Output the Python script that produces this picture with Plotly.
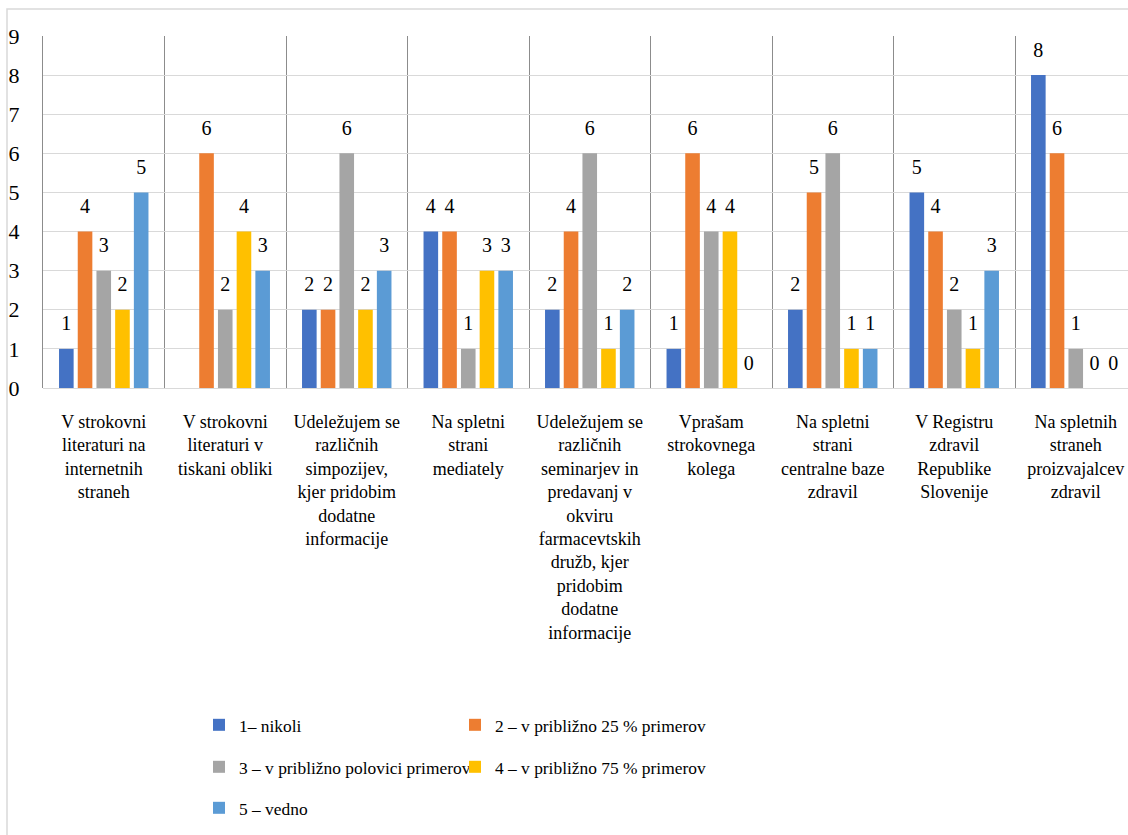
import plotly.graph_objects as go

# Survey: where respondents look for information, answer counts per frequency
categories = [
    "V strokovni<br>literaturi na<br>internetnih<br>straneh",
    "V strokovni<br>literaturi v<br>tiskani obliki",
    "Udeležujem se<br>različnih<br>simpozijev,<br>kjer pridobim<br>dodatne<br>informacije",
    "Na spletni<br>strani<br>mediately",
    "Udeležujem se<br>različnih<br>seminarjev in<br>predavanj v<br>okviru<br>farmacevtskih<br>družb, kjer<br>pridobim<br>dodatne<br>informacije",
    "Vprašam<br>strokovnega<br>kolega",
    "Na spletni<br>strani<br>centralne baze<br>zdravil",
    "V Registru<br>zdravil<br>Republike<br>Slovenije",
    "Na spletnih<br>straneh<br>proizvajalcev<br>zdravil",
]

series_names = [
    "1– nikoli",
    "2 – v približno 25 % primerov",
    "3 – v približno polovici primerov",
    "4 – v približno 75 % primerov",
    "5 – vedno",
]

nikoli = [1, None, 2, 4, 2, 1, 2, 5, 8]
priblizno_25 = [4, 6, 2, 4, 4, 6, 5, 4, 6]
polovica = [3, 2, 6, 1, 6, 4, 6, 2, 1]
priblizno_75 = [2, 4, 2, 3, 1, 4, 1, 1, 0]
vedno = [5, 3, 3, 3, 2, 0, 1, 3, 0]

series_values = [nikoli, priblizno_25, polovica, priblizno_75, vedno]
colors = ["#4472C4", "#ED7D31", "#A5A5A5", "#FFC000", "#5B9BD5"]

y_ticks = list(range(0, 10))

FONT = "'Liberation Serif', 'Times New Roman', Times, 'DejaVu Serif', serif"
W, H = 1128, 835
M_L, M_T, M_B = 43, 36, 447
BAR_GAP = 0.23

# legend grid: two columns, three rows (pixel position of each entry's left edge / centre)
legend_cols = [199, 455]
legend_rows = [725, 767, 808]

fig = go.Figure()

legend_layouts = {}
for i, (name, vals, col) in enumerate(zip(series_names, series_values, colors)):
    lg = "legend" if i == 0 else f"legend{i + 1}"
    fig.add_trace(go.Bar(
        x=categories, y=vals, name=name, marker_color=col,
        marker_line_width=0, legend=lg, hoverinfo="skip",
    ))
    legend_layouts[lg] = dict(
        orientation="h", xref="container", yref="container",
        x=legend_cols[i % 2] / W, y=1 - legend_rows[i // 2] / H,
        xanchor="left", yanchor="middle",
        font=dict(family=FONT, size=17.4, color="#000000"),
        bgcolor="rgba(0,0,0,0)",
    )

# value labels, grouped the same way as the bars
for name, vals in zip(series_names, series_values):
    fig.add_trace(go.Scatter(
        x=categories, y=vals, mode="markers+text",
        text=["" if v is None else str(v) for v in vals],
        textposition="top center",
        textfont=dict(family=FONT, size=20, color="#000000"),
        marker=dict(size=20, opacity=0),
        showlegend=False, hoverinfo="skip", cliponaxis=False,
    ))

plot_w = W - M_L
n_visible = plot_w / 121.5

fig.update_layout(
    width=W, height=H, autosize=False,
    margin=dict(l=M_L, r=0, t=M_T, b=M_B, pad=0),
    paper_bgcolor="#FFFFFF", plot_bgcolor="#FFFFFF",
    barmode="group", bargap=BAR_GAP, bargroupgap=0.22,
    scattermode="group", scattergap=BAR_GAP,
    font=dict(family=FONT, size=18, color="#000000"),
    xaxis=dict(
        type="category", tickson="boundaries",
        range=[-0.5, -0.5 + n_visible],
        showgrid=True, gridcolor="#8C8C8C", gridwidth=1,
        showline=False, ticks="", zeroline=False,
        tickfont=dict(family=FONT, size=18, color="#000000"),
        ticklabelstandoff=21,
    ),
    yaxis=dict(
        range=[0, 9], tickvals=y_ticks, ticktext=[str(t) for t in y_ticks],
        showgrid=True, gridcolor="#D9D9D9", gridwidth=1,
        zeroline=True, zerolinecolor="#D9D9D9", zerolinewidth=1,
        showline=True, linecolor="#8C8C8C", linewidth=1,
        ticks="", tickfont=dict(family=FONT, size=22, color="#000000"),
        ticklabelstandoff=18,
    ),
    showlegend=True,
    **legend_layouts,
)

# light frame around the whole chart area
plot_h = H - M_T - M_B
fig.add_shape(
    type="rect", xref="paper", yref="paper", layer="below",
    x0=-(M_L - 7) / plot_w, x1=1 + 10 / plot_w,
    y0=-(M_B + 10) / plot_h, y1=1 + (M_T - 9) / plot_h,
    line=dict(color="#D9D9D9", width=1.5), fillcolor="rgba(0,0,0,0)",
)

fig.write_html("out.html")
